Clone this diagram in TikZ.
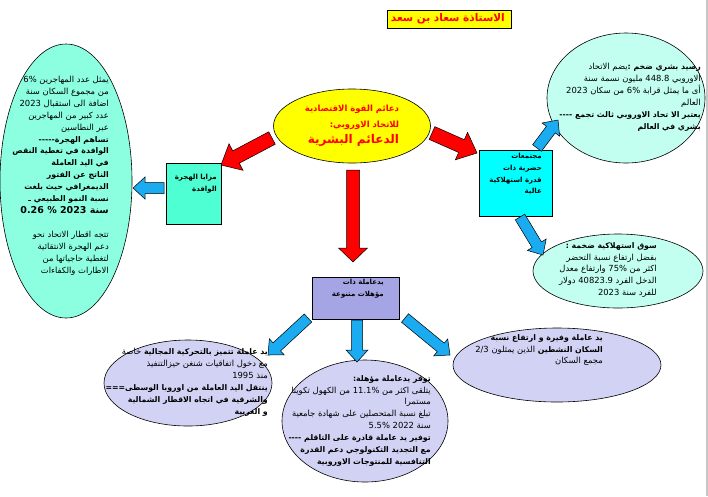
\documentclass[tikz,border=0pt]{standalone}
\usepackage{fontspec}
\usetikzlibrary{shapes.geometric, calc}
\TeXXeTstate=1
\newfontfamily\arabicfont[Script=Arabic]{DejaVu Sans}
\newcommand{\ar}[1]{\beginR #1\endR}
\newcommand{\bd}{\bfseries\fontsize{7.8}{11.9}\selectfont}

\definecolor{titlefill}{HTML}{FFFF00}
\definecolor{migfill}{HTML}{4DFFD2}
\definecolor{migell}{HTML}{8CFFE0}
\definecolor{paleaqua}{HTML}{C2FFF0}
\definecolor{cyanbox}{HTML}{00FFFF}
\definecolor{lilacbox}{HTML}{A5A5E6}
\definecolor{lilacell}{HTML}{D2D2F5}
\definecolor{arrblue}{HTML}{1AABF0}

\tikzstyle{rectbox} = [rectangle, draw=black, line width=0.6pt, inner sep=0pt]
\tikzstyle{ellbox} = [ellipse, draw=black, line width=0.6pt, inner sep=0pt]
\tikzstyle{txt} = [align=right, inner sep=0pt, anchor=north east, font=\arabicfont\fontsize{8.4}{11.9}\selectfont]
\tikzstyle{boxtxt} = [align=right, inner sep=0pt, anchor=north east, font=\arabicfont\bfseries\fontsize{7}{11.8}\selectfont]
\tikzstyle{redarrow} = [draw=black, fill=red, line width=0.5pt]
\tikzstyle{bluearrow} = [draw=black, fill=arrblue, line width=0.5pt]

% block arrow: style, from, to, shaft half width, head half width, head length
\newcommand{\blockarrow}[6]{%
  \coordinate (hb) at ($(#3)!#6!(#2)$);
  \draw[#1] ($(#2)!#4!90:(#3)$) -- ($(hb)!#4!90:(#3)$) -- ($(hb)!#5!90:(#3)$) -- (#3)
    -- ($(hb)!#5!-90:(#3)$) -- ($(hb)!#4!-90:(#3)$) -- ($(#2)!#4!-90:(#3)$) -- cycle;}

\begin{document}
\begin{tikzpicture}[x=1pt, y=-1pt]
\useasboundingbox (0,0) rectangle (708,496);
\draw[gray!45, line width=1.2pt] (707,0) -- (707,496);

% shapes
\node (title) [rectbox, fill=titlefill, minimum width=124pt, minimum height=18pt] at (449,19) {};
\node (core) [ellbox, fill=titlefill, minimum width=157pt, minimum height=74pt, align=right, text=red,
  font=\arabicfont\bfseries\fontsize{8.5}{16}\selectfont] at (352,126)
  {\ar{دعائم القوة الاقتصادية}\\ \ar{للاتحاد الاوروبي:}\\ {\fontsize{12}{17}\selectfont\ar{الدعائم البشرية}}};
\node (migell) [ellbox, fill=migell, minimum width=132pt, minimum height=274pt] at (66,181) {};
\node (migbox) [rectbox, fill=migfill, minimum width=55pt, minimum height=61pt] at (193.5,193.5) {};
\node (popell) [ellbox, fill=paleaqua, minimum width=158pt, minimum height=130pt] at (626,98) {};
\node (citybox) [rectbox, fill=cyanbox, minimum width=73pt, minimum height=66pt] at (515.5,183) {};
\node (marketell) [ellbox, fill=paleaqua, minimum width=170pt, minimum height=74pt] at (618,271) {};
\node (skillbox) [rectbox, fill=lilacbox, minimum width=87pt, minimum height=42pt] at (355.5,298) {};
\node (mobilell) [ellbox, fill=lilacell, minimum width=168pt, minimum height=86pt] at (188,383) {};
\node (qualell) [ellbox, fill=lilacell, minimum width=166pt, minimum height=122pt] at (365,421) {};
\node (abundell) [ellbox, fill=lilacell, minimum width=208pt, minimum height=74pt] at (557,365) {};

% arrows
\coordinate (rl1) at (272,138);  \coordinate (rl2) at (221,165);
\coordinate (rr1) at (432,133);  \coordinate (rr2) at (477,153);
\coordinate (rd1) at (353,170);  \coordinate (rd2) at (353,262);
\coordinate (bl1) at (164,188);  \coordinate (bl2) at (133,188);
\coordinate (bu1) at (537,148);  \coordinate (bu2) at (558,120);
\coordinate (bm1) at (520,217);  \coordinate (bm2) at (543,255);
\coordinate (bs1) at (308,318);  \coordinate (bs2) at (268,355);
\coordinate (bq1) at (357,320);  \coordinate (bq2) at (357,362);
\coordinate (ba1) at (405,318);  \coordinate (ba2) at (450,355);
\blockarrow{redarrow}{rl1}{rl2}{7pt}{15pt}{17pt}
\blockarrow{redarrow}{rr1}{rr2}{7pt}{15pt}{17pt}
\blockarrow{redarrow}{rd1}{rd2}{6.5pt}{14.5pt}{14pt}
\blockarrow{bluearrow}{bl1}{bl2}{5.5pt}{11pt}{12pt}
\blockarrow{bluearrow}{bu1}{bu2}{5.5pt}{11pt}{12pt}
\blockarrow{bluearrow}{bm1}{bm2}{5.5pt}{11pt}{12pt}
\blockarrow{bluearrow}{bs1}{bs2}{5.5pt}{11pt}{12pt}
\blockarrow{bluearrow}{bq1}{bq2}{5.5pt}{11pt}{12pt}
\blockarrow{bluearrow}{ba1}{ba2}{5.5pt}{11pt}{12pt}

% texts
\node (titletxt) [anchor=east, inner sep=0pt, text=red, font=\arabicfont\bfseries\fontsize{10.5}{12}\selectfont] at (505,19)
  {\ar{الاستاذة سعاد بن سعد}};
\node (migtxt) [txt] at (109,76) {%
  \ar{يمثل عدد المهاجرين 6\%}\\
  \ar{من مجموع السكان سنة}\\
  2023 \ar{اضافة الى استقبال}\\
  \ar{عدد كبير من المهاجرين}\\
  \ar{عبر النطاسين}\\
  {\bd -----\ar{تساهم الهجرة}}\\
  {\bd\ar{الوافدة في تغطية النقص}}\\
  {\bd\ar{في اليد العاملة}}\\
  {\bd\ar{الناتج عن الفتور}}\\
  {\bd\ar{الديمغرافي حيث بلغت}}\\
  {\bd\ar{نسبة النمو الطبيعي ـ}}\\
  {\bfseries\fontsize{9.5}{13.5}\selectfont 0.26 \% \ar{سنة 2023}}\\[12pt]
  \ar{تتجه اقطار الاتحاد نحو}\\
  \ar{دعم الهجرة الانتقائية}\\
  \ar{لتغطية حاجياتها من}\\
  \ar{الاطارات والكفاءات}};
\node (migboxtxt) [boxtxt] at (217,174) {\ar{مزايا الهجرة}\\ \ar{الوافدة}};
\node (poptxt) [txt] at (701,63) {%
  \ar{{\bd رصيد بشري ضخم :}يضم الاتحاد}\\
  \ar{الاوروبي 448.8 مليون نسمة سنة}\\
  2023 \ar{أى ما يمثل قرابة 6\% من سكان}\\
  \ar{العالم}\\
  {\bd ---- \ar{يعتبر الا تحاد الاوروبي ثالث تجمع}}\\
  {\bd\ar{بشري في العالم}}\hskip 0pt plus 1filll};
\node (citytxt) [boxtxt] at (542,153) {\ar{مجتمعات}\\ \ar{حضرية ذات}\\ \ar{قدرة استهلاكية}\\ \ar{عالية}};
\node (markettxt) [txt] at (657,242) {%
  {\bd\ar{سوق استهلاكية ضخمة :}}\\
  \ar{بفضل ارتفاع نسبة التحضر}\\
  \ar{اكثر من 75\% وارتفاع  معدل}\\
  \ar{الدخل الفرد 40823.9 دولار}\\
  \ar{للفرد سنة 2023}};
\node (skilltxt) [boxtxt] at (384,279) {\ar{يدعاملة ذات}\\ \ar{مؤهلات متنوعة}};
\node (mobiltxt) [txt] at (268,348) {%
  \ar{{\bd يد عاملة تتميز بالتحركية المجالية} خاصة}\\
  \ar{مع دخول اتفاقيات شنغن حيزالتنفيذ}\\
  \ar{منذ 1995}\hspace*{38pt}\\
  {\bd ===\ar{ينتقل اليد العاملة من اوروبا الوسطى}}\\
  {\bd\ar{والشرقية في اتجاه الاقطار الشمالية}}\\
  {\bd\ar{و  الغربية}}};
\node (qualtxt) [txt] at (431,375) {%
  {\bd\ar{توفر  يدعاملة مؤهلة:}}\\
  \ar{يتلقى اكثر من 11.1\% من الكهول تكوينا}\\
  \ar{مستمرا}\hspace*{15pt}\\
  \ar{تبلغ نسبة المتحصلين على شهادة جامعية}\\
  5.5\% \ar{سنة 2022}\\
  {\bd ---- \ar{توفير يد عاملة قادرة على التاقلم}}\\
  {\bd\ar{مع التجديد التكنولوجي  دعم القدرة}}\\
  {\bd\ar{التنافسية للمنتوجات الاوروبية}}};
\node (abundtxt) [txt] at (603,334) {%
  {\bd\ar{يد عاملة وفيرة و  ارتفاع نسبة}}\\
  \ar{{\bd السكان النشطين} الذين يمثلون 2/3}\\
  \ar{مجمع السكان}};

\end{tikzpicture}
\end{document}
